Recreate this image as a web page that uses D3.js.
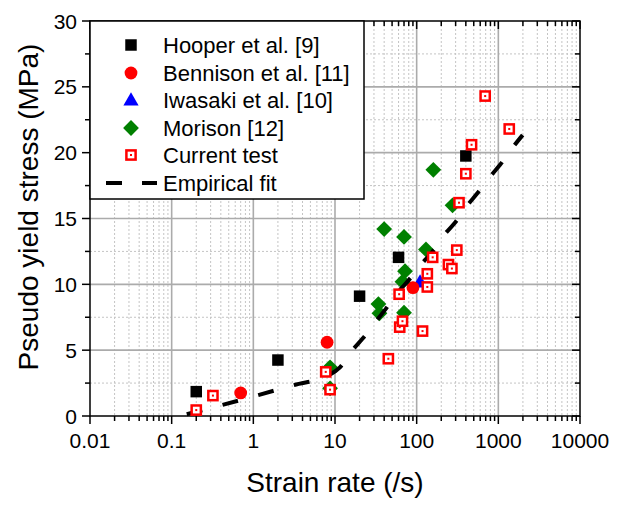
<!DOCTYPE html>
<html><head><meta charset="utf-8">
<script src="https://cdn.jsdelivr.net/npm/d3@7"></script>
<style>body{margin:0;background:#fff}</style>
</head><body>
<svg id="c" width="621" height="506"></svg>
<script>
// ---- data ----
const xTicks = [0.01, 0.1, 1, 10, 100, 1000, 10000];
const xTickLabels = ["0.01", "0.1", "1", "10", "100", "1000", "10000"];
const yTicks = [0, 5, 10, 15, 20, 25, 30];
const yTickLabels = ["0", "5", "10", "15", "20", "25", "30"];

const hooperRate = [0.2, 2, 20, 60, 400];
const hooperStress = [1.85, 4.25, 9.1, 12.05, 19.75];

const bennisonRate = [0.7, 8, 90];
const bennisonStress = [1.75, 5.6, 9.75];

const iwasakiRate = [110];
const iwasakiStress = [10.1];

const morisonRate = [8.7, 8.7, 34, 35, 40, 67, 70, 70, 72, 130, 160, 275];
const morisonStress = [3.7, 2.1, 8.5, 7.8, 14.2, 10.2, 13.6, 7.85, 11.0, 12.65, 18.7, 16.0];

const currentRate = [0.2, 0.32, 7.7, 8.7, 45, 61, 62, 67, 118, 135, 135, 157, 245, 270, 310, 330, 400, 470, 690, 1360];
const currentStress = [0.45, 1.55, 3.35, 2.0, 4.35, 9.25, 6.75, 7.2, 6.45, 10.8, 9.8, 12.05, 11.5, 11.2, 12.6, 16.2, 18.4, 20.6, 24.3, 21.8];

const fitRate = [0.153, 0.42, 1.15, 3.15, 8.45, 11.5, 16.4, 21.8, 32.1, 41.2, 59.6, 79, 118.6, 152.8, 222, 294, 421, 553, 806, 1056, 1525, 1986];
const fitStress = [0.13, 0.84, 1.59, 2.35, 3.11, 3.7, 5.01, 5.88, 7.23, 8.08, 9.44, 10.28, 11.64, 12.4, 13.82, 14.68, 16.02, 16.91, 18.23, 19.1, 20.45, 21.34];

const legendLabels = ["Hooper et al. [9]", "Bennison et al. [11]", "Iwasaki et al. [10]", "Morison [12]", "Current test", "Empirical fit"];
const xTitle = "Strain rate (/s)";
const yTitle = "Pseudo yield stress (MPa)";

// ---- layout ----
const L = 90, R = 580, T = 21, B = 416;
const FONT = "'Liberation Sans', Arial, sans-serif";
const svg = d3.select("#c");
const x = d3.scaleLog().domain([0.01, 10000]).range([L, R]);
const y = d3.scaleLinear().domain([0, 30]).range([B, T]);

const xMinor = [];
for (let d = 0; d < xTicks.length - 1; d++) for (let k = 2; k <= 9; k++) xMinor.push(xTicks[d] * k);
const yMinor = yTicks.slice(0, -1).map(v => v + 2.5);

// grid
const g = svg.append("g");
g.selectAll(".xmin").data(xMinor).join("line")
  .attr("x1", d => x(d)).attr("x2", d => x(d)).attr("y1", T).attr("y2", B)
  .attr("stroke", "#c4c4c4").attr("stroke-width", 1).attr("stroke-dasharray", "2,2");
g.selectAll(".ymin").data(yMinor).join("line")
  .attr("x1", L).attr("x2", R).attr("y1", d => y(d)).attr("y2", d => y(d))
  .attr("stroke", "#c4c4c4").attr("stroke-width", 1).attr("stroke-dasharray", "2,2");
g.selectAll(".xmaj").data(xTicks.slice(1, -1)).join("line")
  .attr("x1", d => x(d)).attr("x2", d => x(d)).attr("y1", T).attr("y2", B)
  .attr("stroke", "#ababab").attr("stroke-width", 1.6);
g.selectAll(".ymaj").data(yTicks.slice(1, -1)).join("line")
  .attr("x1", L).attr("x2", R).attr("y1", d => y(d)).attr("y2", d => y(d))
  .attr("stroke", "#ababab").attr("stroke-width", 1.6);

// axes
const ax = svg.append("g").attr("stroke", "#000").attr("stroke-width", 1.5);
ax.append("rect").attr("x", L).attr("y", T).attr("width", R - L).attr("height", B - T).attr("fill", "none");
ax.selectAll(".bt").data(xTicks).join("line")
  .attr("x1", d => x(d)).attr("x2", d => x(d)).attr("y1", B).attr("y2", B + 8);
ax.selectAll(".bm").data(xMinor).join("line")
  .attr("x1", d => x(d)).attr("x2", d => x(d)).attr("y1", B).attr("y2", B + 5);
ax.selectAll(".tt").data(xTicks).join("line")
  .attr("x1", d => x(d)).attr("x2", d => x(d)).attr("y1", T).attr("y2", T + 8);
ax.selectAll(".tm").data(xMinor).join("line")
  .attr("x1", d => x(d)).attr("x2", d => x(d)).attr("y1", T).attr("y2", T + 5);
ax.selectAll(".lt").data(yTicks).join("line")
  .attr("x1", L - 8).attr("x2", L).attr("y1", d => y(d)).attr("y2", d => y(d));
ax.selectAll(".lm").data(yMinor).join("line")
  .attr("x1", L - 5).attr("x2", L).attr("y1", d => y(d)).attr("y2", d => y(d));
ax.selectAll(".rt").data(yTicks).join("line")
  .attr("x1", R - 8).attr("x2", R).attr("y1", d => y(d)).attr("y2", d => y(d));
ax.selectAll(".rm").data(yMinor).join("line")
  .attr("x1", R - 5).attr("x2", R).attr("y1", d => y(d)).attr("y2", d => y(d));

// tick labels
svg.selectAll(".xl").data(xTicks).join("text")
  .attr("x", d => x(d)).attr("y", B + 32).attr("text-anchor", "middle")
  .attr("font-family", FONT).attr("font-size", 21).text((d, i) => xTickLabels[i]);
svg.selectAll(".yl").data(yTicks).join("text")
  .attr("x", L - 13).attr("y", d => y(d) + 7.5).attr("text-anchor", "end")
  .attr("font-family", FONT).attr("font-size", 21).text((d, i) => yTickLabels[i]);

// titles
svg.append("text").attr("x", 335).attr("y", 492).attr("text-anchor", "middle")
  .attr("font-family", FONT).attr("font-size", 28).text(xTitle);
svg.append("text").attr("transform", `translate(38,207) rotate(-90)`).attr("text-anchor", "middle")
  .attr("font-family", FONT).attr("font-size", 28).text(yTitle);

// markers
const sq = d3.symbol().type(d3.symbolSquare).size(132);
const circ = d3.symbol().type(d3.symbolCircle).size(Math.PI * 6.4 * 6.4);
const tri = d3.symbol().type(d3.symbolTriangle).size(100);
const dia = d3.symbol().type(d3.symbolSquare).size(125);

function drawSquare(sel) { sel.attr("d", sq).attr("fill", "#000"); }
function drawCircle(sel) { sel.attr("d", circ).attr("fill", "#ff0000"); }
function drawTri(sel) { sel.attr("d", tri).attr("fill", "#0000ff"); }
function drawDia(sel) { sel.attr("d", dia).attr("fill", "#008000"); }
function drawCurrent(gsel) {
  gsel.append("rect").attr("x", -4.6).attr("y", -4.6).attr("width", 9.2).attr("height", 9.2)
    .attr("fill", "#fff").attr("stroke", "#ff0000").attr("stroke-width", 2.5);
  gsel.append("rect").attr("x", -1).attr("y", -1).attr("width", 2).attr("height", 2).attr("fill", "#ff0000");
}

const pts = svg.append("g");
pts.selectAll(".h").data(hooperRate).join("path")
  .attr("transform", (d, i) => `translate(${x(d)},${y(hooperStress[i])})`).call(drawSquare);
pts.selectAll(".i").data(iwasakiRate).join("path")
  .attr("transform", (d, i) => `translate(${x(d)},${y(iwasakiStress[i])})`).call(drawTri);
pts.selectAll(".b").data(bennisonRate).join("path")
  .attr("transform", (d, i) => `translate(${x(d)},${y(bennisonStress[i])})`).call(drawCircle);
pts.selectAll(".m").data(morisonRate).join("path")
  .attr("transform", (d, i) => `translate(${x(d)},${y(morisonStress[i])}) rotate(45)`).call(drawDia);

// fit line
const line = d3.line().x(d => x(d[0])).y(d => y(d[1])).curve(d3.curveMonotoneX);
svg.append("path").datum(fitRate.map((r, i) => [r, fitStress[i]]))
  .attr("d", line).attr("fill", "none").attr("stroke", "#000").attr("stroke-width", 4)
  .attr("stroke-dasharray", "16,21");

svg.append("g").selectAll("g").data(currentRate).join("g")
  .attr("transform", (d, i) => `translate(${x(d)},${y(currentStress[i])})`)
  .each(function () { drawCurrent(d3.select(this)); });

// legend
const lg = svg.append("g");
lg.append("rect").attr("x", L).attr("y", T).attr("width", 274).attr("height", 178)
  .attr("fill", "#fff").attr("stroke", "#000").attr("stroke-width", 1.5);
const rowY = [45, 73, 100, 128, 155, 183];
const mx = 131, tx = 163;
lg.append("path").attr("transform", `translate(${mx},${rowY[0]})`).call(drawSquare);
lg.append("path").attr("transform", `translate(${mx},${rowY[1]})`).call(drawCircle);
lg.append("path").attr("transform", `translate(${mx},${rowY[2] + 1})`).call(drawTri);
lg.append("path").attr("transform", `translate(${mx},${rowY[3]}) rotate(45)`).call(drawDia);
drawCurrent(lg.append("g").attr("transform", `translate(${mx},${rowY[4]})`));
lg.append("line").attr("x1", 106).attr("x2", 157).attr("y1", rowY[5]).attr("y2", rowY[5])
  .attr("stroke", "#000").attr("stroke-width", 4).attr("stroke-dasharray", "16,20");
lg.selectAll(".lt").data(legendLabels).join("text")
  .attr("x", tx).attr("y", (d, i) => rowY[i] + 8).attr("font-family", FONT).attr("font-size", 22)
  .text(d => d);
</script>
</body></html>
